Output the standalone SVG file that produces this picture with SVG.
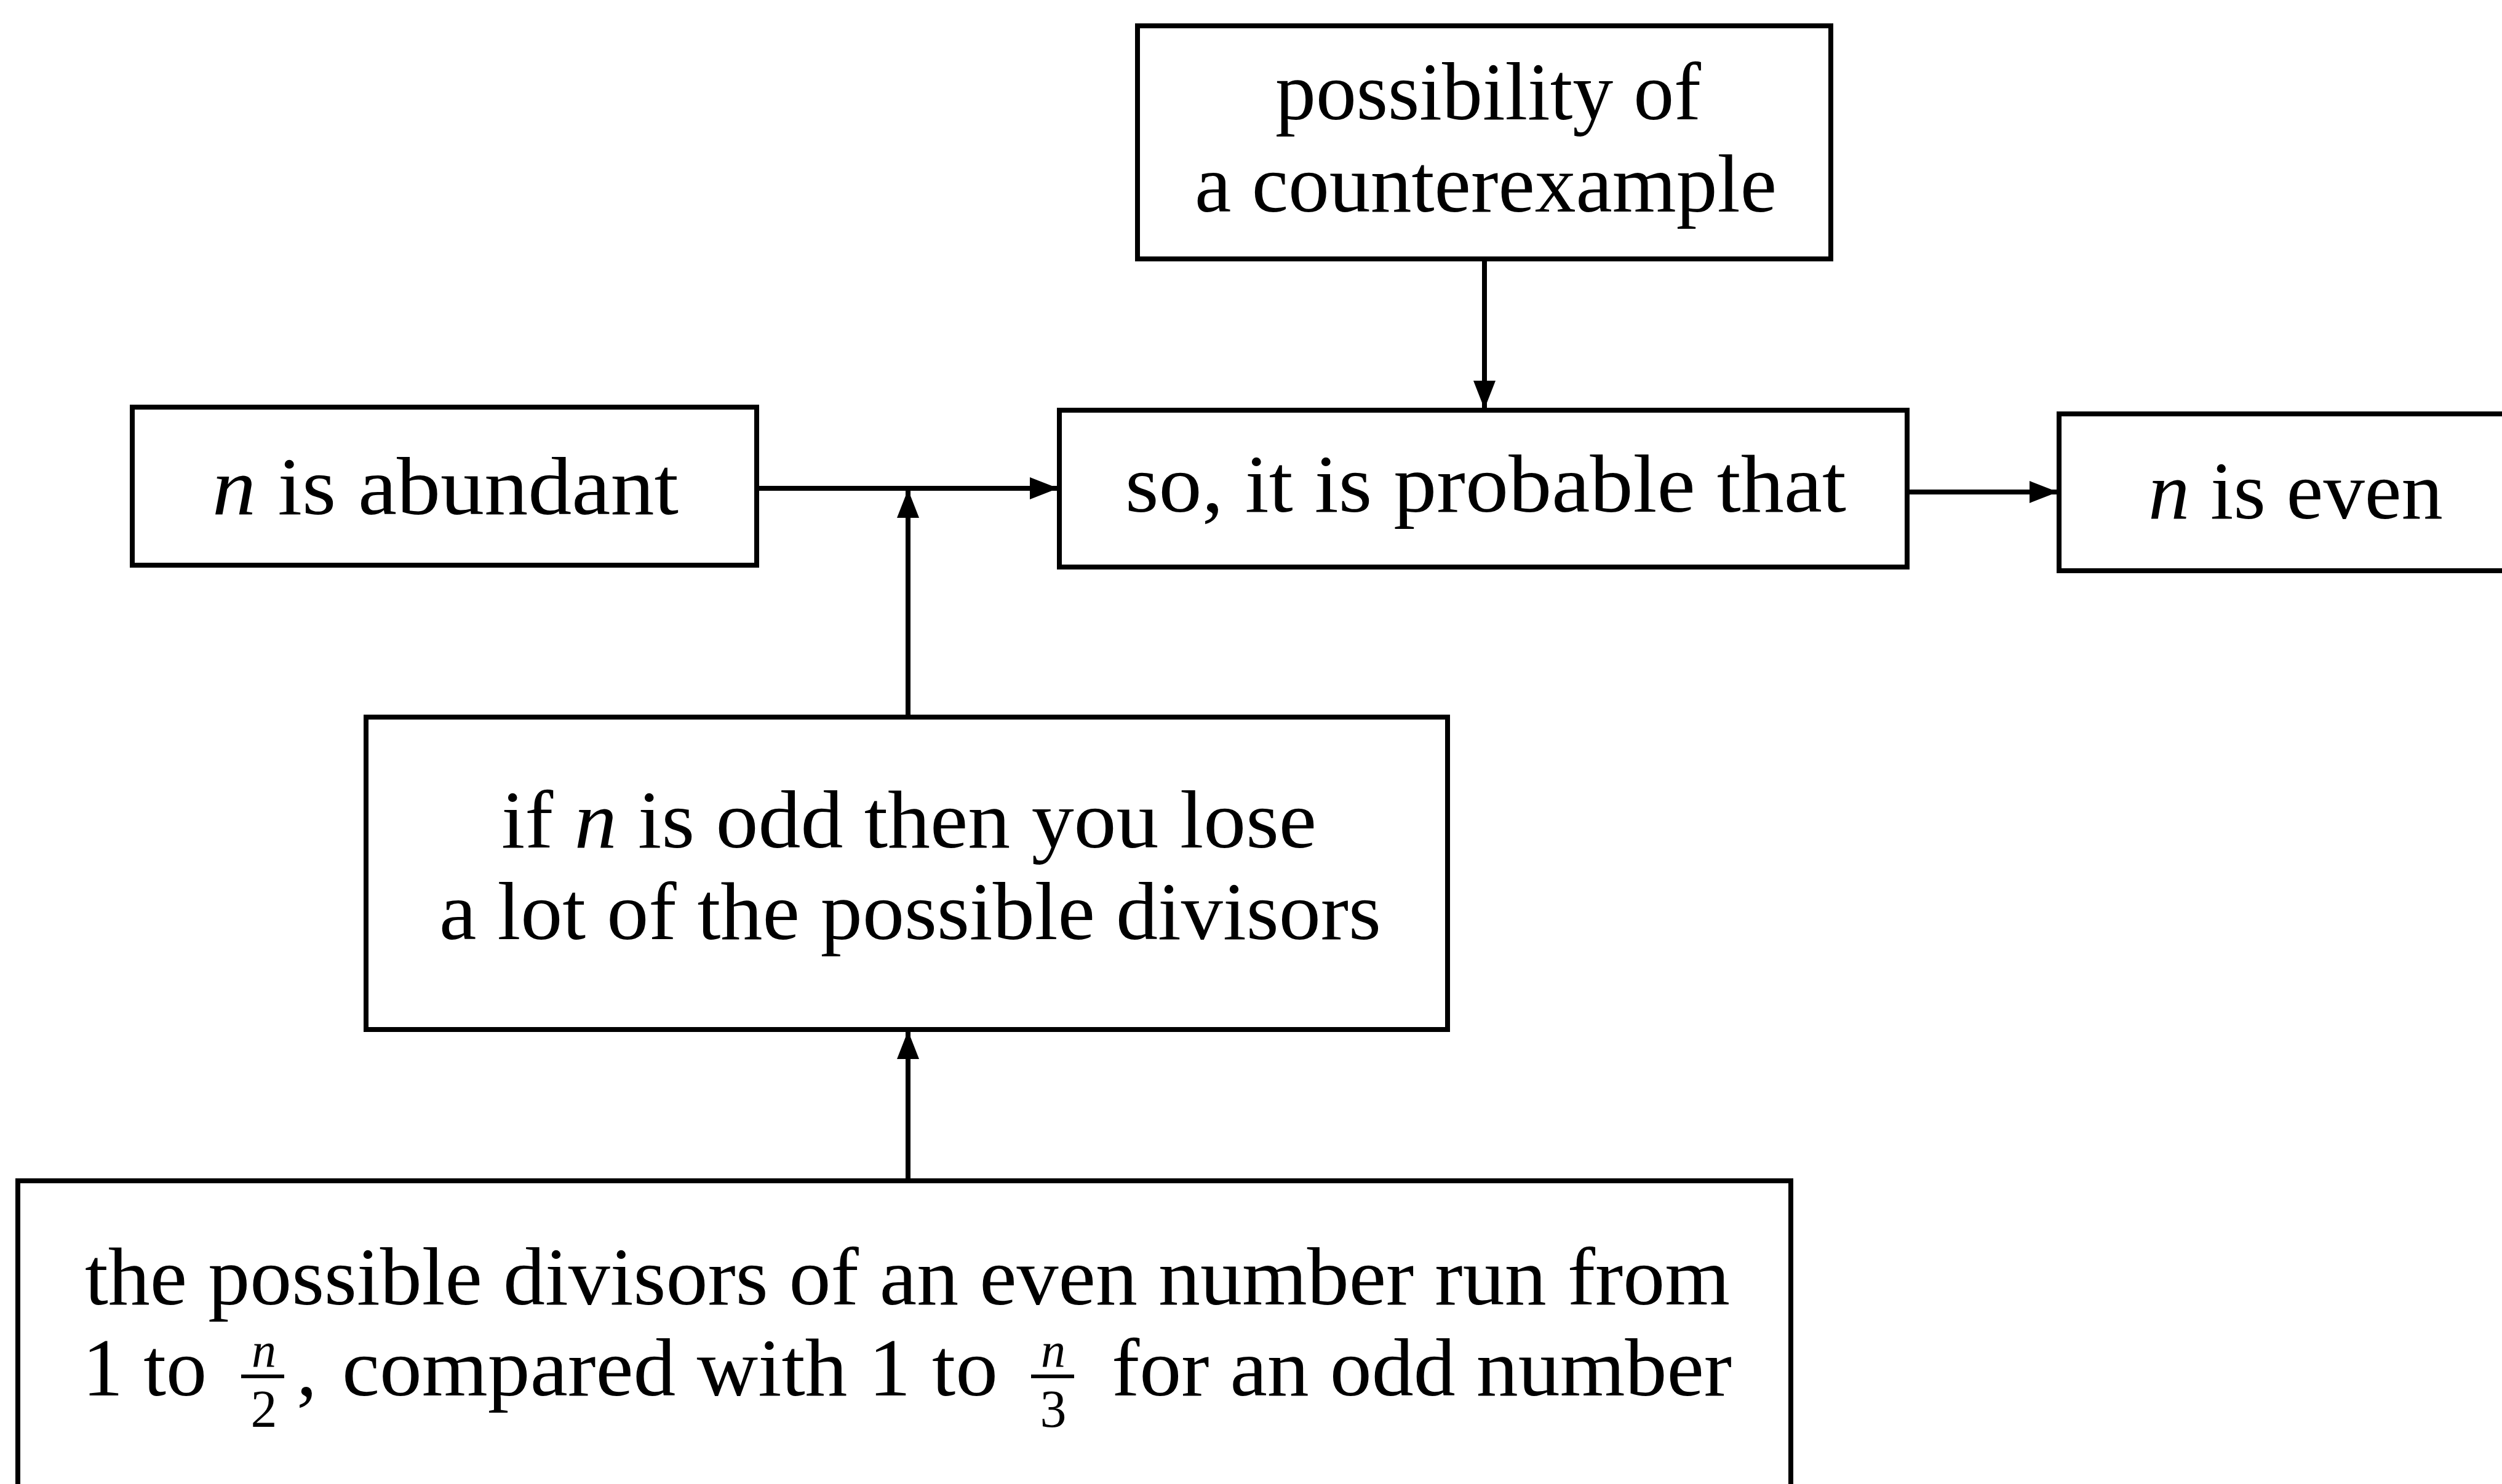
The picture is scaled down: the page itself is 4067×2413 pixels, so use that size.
<svg xmlns="http://www.w3.org/2000/svg" width="4067" height="2413" viewBox="0 0 4067 2413">
<defs>
<style>
.box{fill:#fff;stroke:#000;stroke-width:8}
.t{font-family:"Liberation Serif","Times New Roman",serif;font-size:133px;fill:#000}
.i{font-style:italic}
.s{font-family:"Liberation Serif","Times New Roman",serif;font-size:86px;fill:#000}
.n{font-family:"Liberation Serif","Times New Roman",serif;font-size:80px;font-style:italic;fill:#000}
.c{stroke:#000;stroke-width:8;fill:none}
</style>
<marker id="ah" viewBox="0 0 46 36" refX="46" refY="18" markerWidth="46" markerHeight="36" markerUnits="userSpaceOnUse" orient="auto">
<path d="M0,0 L46,18 L0,36 Z" fill="#000"/>
</marker>
</defs>
<rect width="4067" height="2413" fill="#fff"/>
<g id="connectors">
<line class="c" x1="2413" y1="421" x2="2413" y2="665" marker-end="url(#ah)"/>
<line class="c" x1="1230" y1="794" x2="1720" y2="794" marker-end="url(#ah)"/>
<line class="c" x1="1476" y1="1166" x2="1476" y2="796" marker-end="url(#ah)"/>
<line class="c" x1="3100" y1="800" x2="3345" y2="800" marker-end="url(#ah)"/>
<line class="c" x1="1476" y1="1920" x2="1476" y2="1676" marker-end="url(#ah)"/>
</g>
<g id="counterexample">
<rect class="box" x="1849" y="42" width="1127" height="379"/>
<text class="t" x="2073" y="194" textLength="692" lengthAdjust="spacingAndGlyphs">possibility of</text>
<text class="t" x="1942" y="344" textLength="946" lengthAdjust="spacingAndGlyphs">a counterexample</text>
</g>
<g id="abundant">
<rect class="box" x="215" y="662" width="1015" height="257"/>
<text class="t" x="345" y="836" textLength="758" lengthAdjust="spacingAndGlyphs"><tspan class="i">n</tspan> is abundant</text>
</g>
<g id="probable">
<rect class="box" x="1722" y="667" width="1378" height="255"/>
<text class="t" x="1829" y="832" textLength="1172" lengthAdjust="spacingAndGlyphs">so, it is probable that</text>
</g>
<g id="even">
<rect class="box" x="3347" y="673" width="740" height="255"/>
<text class="t" x="3492" y="843" textLength="479" lengthAdjust="spacingAndGlyphs"><tspan class="i">n</tspan> is even</text>
</g>
<g id="odd">
<rect class="box" x="595" y="1166" width="1758" height="508"/>
<text class="t" x="815" y="1378" textLength="1325" lengthAdjust="spacingAndGlyphs">if <tspan class="i">n</tspan> is odd then you lose</text>
<text class="t" x="714" y="1527" textLength="1531" lengthAdjust="spacingAndGlyphs">a lot of the possible divisors</text>
</g>
<g id="divisors">
<rect class="box" x="29" y="1920" width="2882" height="520"/>
<text class="t" x="138" y="2121" textLength="2674" lengthAdjust="spacingAndGlyphs">the possible divisors of an even number run from</text>
<text class="t" x="134" y="2269" textLength="202" lengthAdjust="spacingAndGlyphs">1 to</text>
<text class="n" x="429" y="2222" text-anchor="middle">n</text>
<line x1="392" y1="2238" x2="462" y2="2238" stroke="#000" stroke-width="6"/>
<text class="s" x="429" y="2320" text-anchor="middle">2</text>
<text class="t" x="482" y="2269">,</text>
<text class="t" x="556" y="2269" textLength="1066" lengthAdjust="spacingAndGlyphs">compared with 1 to</text>
<text class="n" x="1712" y="2222" text-anchor="middle">n</text>
<line x1="1676" y1="2238" x2="1746" y2="2238" stroke="#000" stroke-width="6"/>
<text class="s" x="1712" y="2320" text-anchor="middle">3</text>
<text class="t" x="1807" y="2269" textLength="1008" lengthAdjust="spacingAndGlyphs">for an odd number</text>
</g>
</svg>
